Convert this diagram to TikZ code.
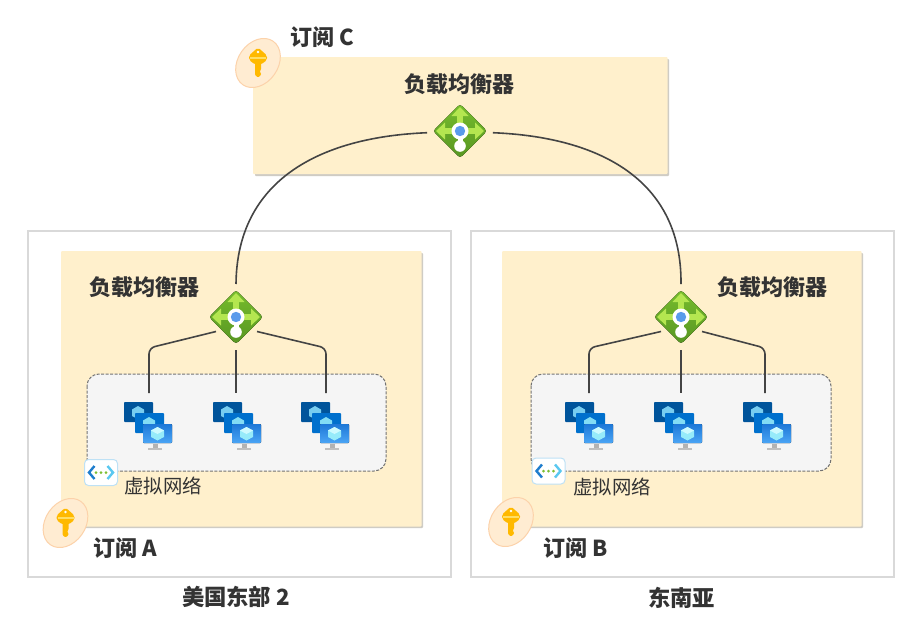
\documentclass[tikz,border=0pt]{standalone}
\usepackage{fontspec}
\setmainfont{Noto Sans CJK SC}
\usetikzlibrary{calc,shapes.geometric}
\definecolor{paneY}{HTML}{FFF0CC}
\definecolor{paneShadow}{HTML}{CFCCC4}
\definecolor{outerLine}{HTML}{D9D9D9}
\definecolor{ink}{HTML}{333333}
\definecolor{lineC}{HTML}{444444}
\definecolor{lbTop}{HTML}{76BC2D}
\definecolor{lbBot}{HTML}{589622}
\definecolor{lbArrow}{HTML}{B4E650}
\definecolor{lbBlue}{HTML}{5A9BEB}
\definecolor{vmA}{HTML}{00549B}
\definecolor{vmB}{HTML}{0070CD}
\definecolor{vmCt}{HTML}{1E78D7}
\definecolor{vmCb}{HTML}{4BA5F5}
\definecolor{cubeA}{HTML}{78CDF0}
\definecolor{cubeB}{HTML}{82DCF5}
\definecolor{cubeC}{HTML}{96EBFA}
\definecolor{cubeD}{HTML}{CDFAFF}
\definecolor{netLine}{HTML}{BEE1F5}
\definecolor{netL}{HTML}{1E7DCD}
\definecolor{netR}{HTML}{5AC8F0}
\definecolor{netG}{HTML}{7DBE32}
\definecolor{badge}{HTML}{FFECD2}
\definecolor{badgeL}{HTML}{FCD2AA}
\definecolor{keyY}{HTML}{FFB900}
\definecolor{keyH}{HTML}{FFDE64}
\tikzset{
  x=1pt,y=-1pt,
  outerbox/.style={draw=outerLine,line width=1.2pt,fill=white},
  panel/.style={fill=paneY,rounded corners=1pt},
  panelshadow/.style={fill=paneShadow,rounded corners=1pt},
  vnetbox/.style={draw=black!55,dash pattern=on 3pt off 1.5pt,line width=1pt,fill=black!4,rounded corners=12pt},
  conn/.style={draw=lineC,line width=1.6pt,rounded corners=6pt},
  curve/.style={draw=lineC,line width=1.6pt},
  hub/.style={circle,minimum size=66pt,inner sep=0pt,outer sep=0pt},
  tap/.style={minimum width=2pt,minimum height=2pt,inner sep=0pt,outer sep=0pt},
  boldlabel/.style={font=\fontsize{22}{25}\selectfont\bfseries,text=ink,inner sep=0pt,anchor=base west},
  thinlabel/.style={font=\fontsize{19.4}{22}\selectfont,text=ink,inner sep=0pt,anchor=base west},
  regionlabel/.style={font=\fontsize{22.3}{25}\selectfont\bfseries,text=ink,inner sep=0pt,anchor=base},
  lb/.pic={
    \fill[rounded corners=3pt,top color=lbTop,bottom color=lbBot]
      (0,-27) -- (27,0) -- (0,27) -- (-27,0) -- cycle;
    \fill[lbArrow] (0,-24) -- (8.5,-15) -- (2.8,-15) -- (2.8,6) -- (-2.8,6) -- (-2.8,-15) -- (-8.5,-15) -- cycle;
    \fill[lbArrow] (-24,0) -- (-15,-8.5) -- (-15,-2.8) -- (15,-2.8) -- (15,-8.5) -- (24,0) -- (15,8.5) -- (15,2.8) -- (-15,2.8) -- (-15,8.5) -- cycle;
    \fill[white] (-2.5,0) rectangle (2.5,14);
    \fill[white] (0,0) circle (8.5);
    \fill[white] (0,15) circle (5.8);
    \fill[lbBlue] (0,0) circle (5.2);
  },
  vms/.pic={
    \fill[rounded corners=.8pt,vmA] (0,0) rectangle (29,20);
    \fill[cubeA] (14,4) -- (20,7.5) -- (20,14) -- (14,17) -- (8,14) -- (8,7.5) -- cycle;
    \fill[rounded corners=.8pt,vmB] (11,11) rectangle (40,31);
    \fill[cubeB] (25,15) -- (31,18.5) -- (31,25) -- (25,28) -- (19,25) -- (19,18.5) -- cycle;
    \fill[black!25] (24,46) rectangle (38,47.5);
    \fill[black!30] (28.5,42) rectangle (33.5,46);
    \fill[rounded corners=.8pt,top color=vmCt,bottom color=vmCb] (19,22) rectangle (48,41);
    \fill[cubeC] (33.5,25) -- (40,28.5) -- (40,35) -- (33.5,38.5) -- (27,35) -- (27,28.5) -- cycle;
    \fill[cubeD] (33.5,25) -- (40,28.5) -- (33.5,32) -- (27,28.5) -- cycle;
  },
  vnet/.pic={
    \draw[netLine,fill=white,line width=1pt,rounded corners=4pt] (0,0) rectangle (33,26);
    \draw[netL,line width=2.4pt] (10,6.5) -- (4.5,13) -- (10,19.5);
    \draw[netR,line width=2.4pt] (23,6.5) -- (28.5,13) -- (23,19.5);
    \foreach \dx in {11.5,16.5,21.5} \fill[netG] (\dx,13) circle (1.5);
  },
  keybadge/.pic={
    \filldraw[fill=badge,draw=badgeL,line width=1pt,rotate=-35] (0,0) ellipse [x radius=20,y radius=26.5];
    \fill[keyY,rounded corners=1pt] (-3,-4) -- (-3,12) -- (0,14.5) -- (3,12) -- (3,10) -- (1.5,8.5) -- (3,7) -- (3,-4) -- cycle;
    \fill[keyY,rounded corners=2pt] (0,-15.5) -- (9,-7.5) -- (9,-3) -- (3,1.5) -- (-3,1.5) -- (-9,-3) -- (-9,-7.5) -- cycle;
    \fill[keyH] (-8,-6) rectangle (8,-4);
    \fill[white] (0,-11) circle (1.4);
  },
}
\begin{document}
\begin{tikzpicture}
\useasboundingbox (0,0) rectangle (922,632);
\fill[white] (0,0) rectangle (922,632);

% regions
\filldraw[outerbox] (28,231) rectangle (451,577);
\filldraw[outerbox] (471,231) rectangle (894,577);

% panels
\fill[panelshadow] (255,59) rectangle (669,176);
\fill[panel] (253,57) rectangle (667.5,174);
\fill[panelshadow] (63,253) rectangle (423,528);
\fill[panel] (61,251) rectangle (421.5,526.5);
\fill[panelshadow] (504,253) rectangle (863,528);
\fill[panel] (502,251) rectangle (861.5,526.5);

% virtual networks
\filldraw[vnetbox] (87,374) rectangle (386,471);
\filldraw[vnetbox] (531,374) rectangle (831,471);

% hubs
\node[hub] (lbC) at (460,131) {};
\node[hub] (lbA) at (236,317) {};
\node[hub] (lbB) at (681,317) {};

% taps above the VM icons
\node[tap] (a1) at (149,394) {};
\node[tap] (a2) at (236,394) {};
\node[tap] (a3) at (326,394) {};
\node[tap] (b1) at (589,394) {};
\node[tap] (b2) at (681,394) {};
\node[tap] (b3) at (765,394) {};

% connectors
\draw[curve] (lbC.183) .. controls (320,137) and (237,180) .. (lbA.north);
\draw[curve] (lbC.357) .. controls (600,137) and (682,180) .. (lbB.north);
\draw[conn] ($(lbA.center)+(-20,14.5)$) -- (149,348) -- (a1.north);
\draw[conn] (lbA.south) -- (a2.north);
\draw[conn] ($(lbA.center)+(21,14.5)$) -- (326,348) -- (a3.north);
\draw[conn] ($(lbB.center)+(-20,14.5)$) -- (589,348) -- (b1.north);
\draw[conn] (lbB.south) -- (b2.north);
\draw[conn] ($(lbB.center)+(21,14.5)$) -- (765,348) -- (b3.north);

% icons
\pic at (lbC.center) {lb};
\pic at (lbA.center) {lb};
\pic at (lbB.center) {lb};
\foreach \px in {124,213,301} \pic at (\px,402) {vms};
\foreach \px in {565,654,743} \pic at (\px,402) {vms};
\pic at (84.5,459.5) {vnet};
\pic at (532,458) {vnet};
\pic at (258,63) {keybadge};
\pic at (65.5,523) {keybadge};
\pic at (511,522) {keybadge};

% labels
\node[boldlabel] (tC) at (290,45) {订阅 C};
\node[boldlabel] (tLC) at (404,92) {负载均衡器};
\node[boldlabel] (tLA) at (89,295) {负载均衡器};
\node[boldlabel] (tLB) at (717,295) {负载均衡器};
\node[thinlabel] (tVA) at (124,493) {虚拟网络};
\node[thinlabel] (tVB) at (573,494) {虚拟网络};
\node[boldlabel] (tA) at (93,556) {订阅 A};
\node[boldlabel] (tB) at (543,556) {订阅 B};
\node[regionlabel] (rA) at (236,605.5) {美国东部 2};
\node[regionlabel] (rB) at (681.5,606) {东南亚};
\end{tikzpicture}
\end{document}
